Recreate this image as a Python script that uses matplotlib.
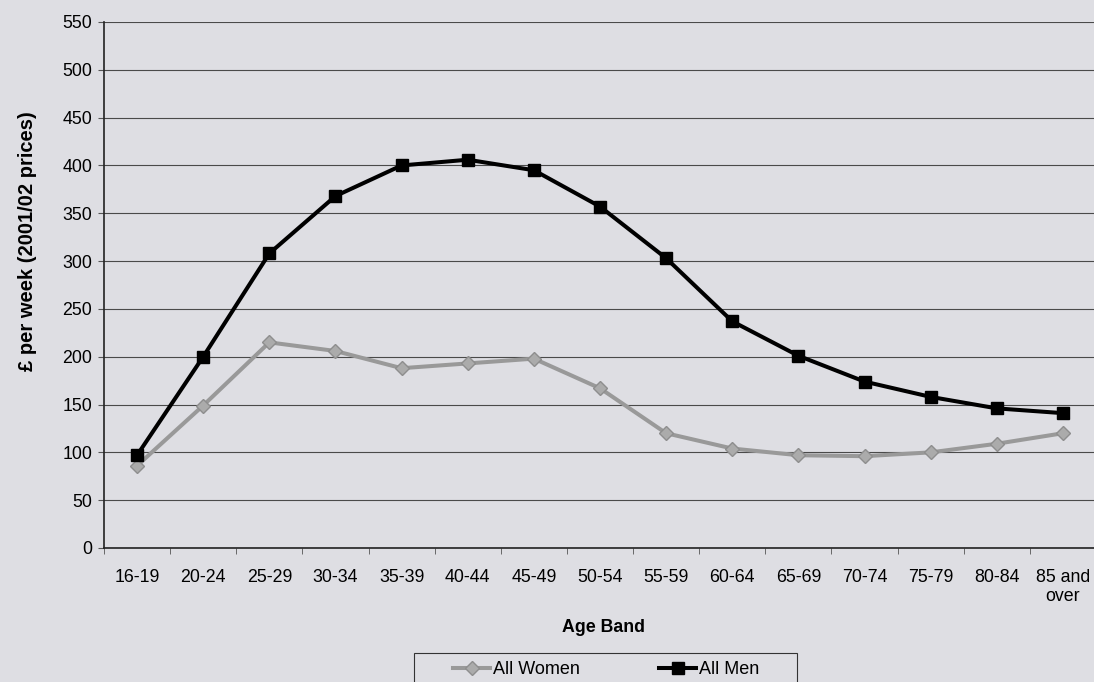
import numpy as np
import matplotlib.pyplot as plt
from matplotlib.patches import Rectangle

plt.rcParams['font.family'] = ['Liberation Sans', 'DejaVu Sans']

age_bands = ['16-19', '20-24', '25-29', '30-34', '35-39', '40-44', '45-49', '50-54',
             '55-59', '60-64', '65-69', '70-74', '75-79', '80-84', '85 and\nover']
women = [86, 149, 215, 206, 188, 193, 198, 167, 120, 104, 97, 96, 100, 109, 120]
men = [97, 200, 308, 368, 400, 406, 395, 357, 303, 237, 201, 174, 158, 146, 141]

bg = '#dedee3'
W, H = 1094, 682
fig = plt.figure(figsize=(W/100, H/100), dpi=100, facecolor=bg)
ax = fig.add_axes([104/W, 1-548/H, 992/W, 526/H], facecolor=bg)

x = np.arange(len(age_bands))
ax.plot(x, women, color='#999999', lw=2.9, marker='D', ms=7, mfc='#ababab', mec='#8e8e8e', label='All Women')
ax.plot(x, men, color='black', lw=2.9, marker='s', ms=8.5, mfc='black', mec='black', label='All Men')

ax.set_xlim(-0.5, len(age_bands)-0.5)
ax.set_ylim(0, 550)
ax.set_yticks(np.arange(0, 551, 50))
ax.set_xticks(x)
ax.set_xticklabels(age_bands, fontsize=12.8)
ax.set_xticks(np.arange(-0.5, len(age_bands), 1), minor=True)
ax.tick_params(axis='x', which='major', length=0, pad=15)
ax.tick_params(axis='x', which='minor', length=4.5, color='#555555', direction='out')
ax.tick_params(axis='y', labelsize=12.8, length=4.5, color='#555555', direction='out', pad=4)
ax.yaxis.grid(True, color='#4a4a4a', lw=0.8)
ax.set_axisbelow(True)
for s in ['top', 'right']:
    ax.spines[s].set_visible(False)
for s in ['left', 'bottom']:
    ax.spines[s].set_color('#222222')
    ax.spines[s].set_linewidth(1.2)

fig.text(28/W, 1-241/H, '£ per week (2001/02 prices)', rotation=90, ha='center', va='center',
         fontsize=14.5, fontweight='bold')
fig.text(604/W, 1-628/H, 'Age Band', ha='center', va='center', fontsize=12.8, fontweight='bold')

# legend box (runs off the bottom edge as in the original)
fig.patches.append(Rectangle((414/W, 1-700/H), 383/W, 47/H, transform=fig.transFigure,
                             facecolor='none', edgecolor='#333333', lw=0.8))
fig.legend(loc='center left', bbox_to_anchor=(453/W, 1-670/H), ncol=2, frameon=False,
           fontsize=13, handlelength=2.05, handletextpad=0.17, columnspacing=4.4,
           borderpad=0, borderaxespad=0, numpoints=1)

fig.savefig('out.png', dpi=100, facecolor=bg)
